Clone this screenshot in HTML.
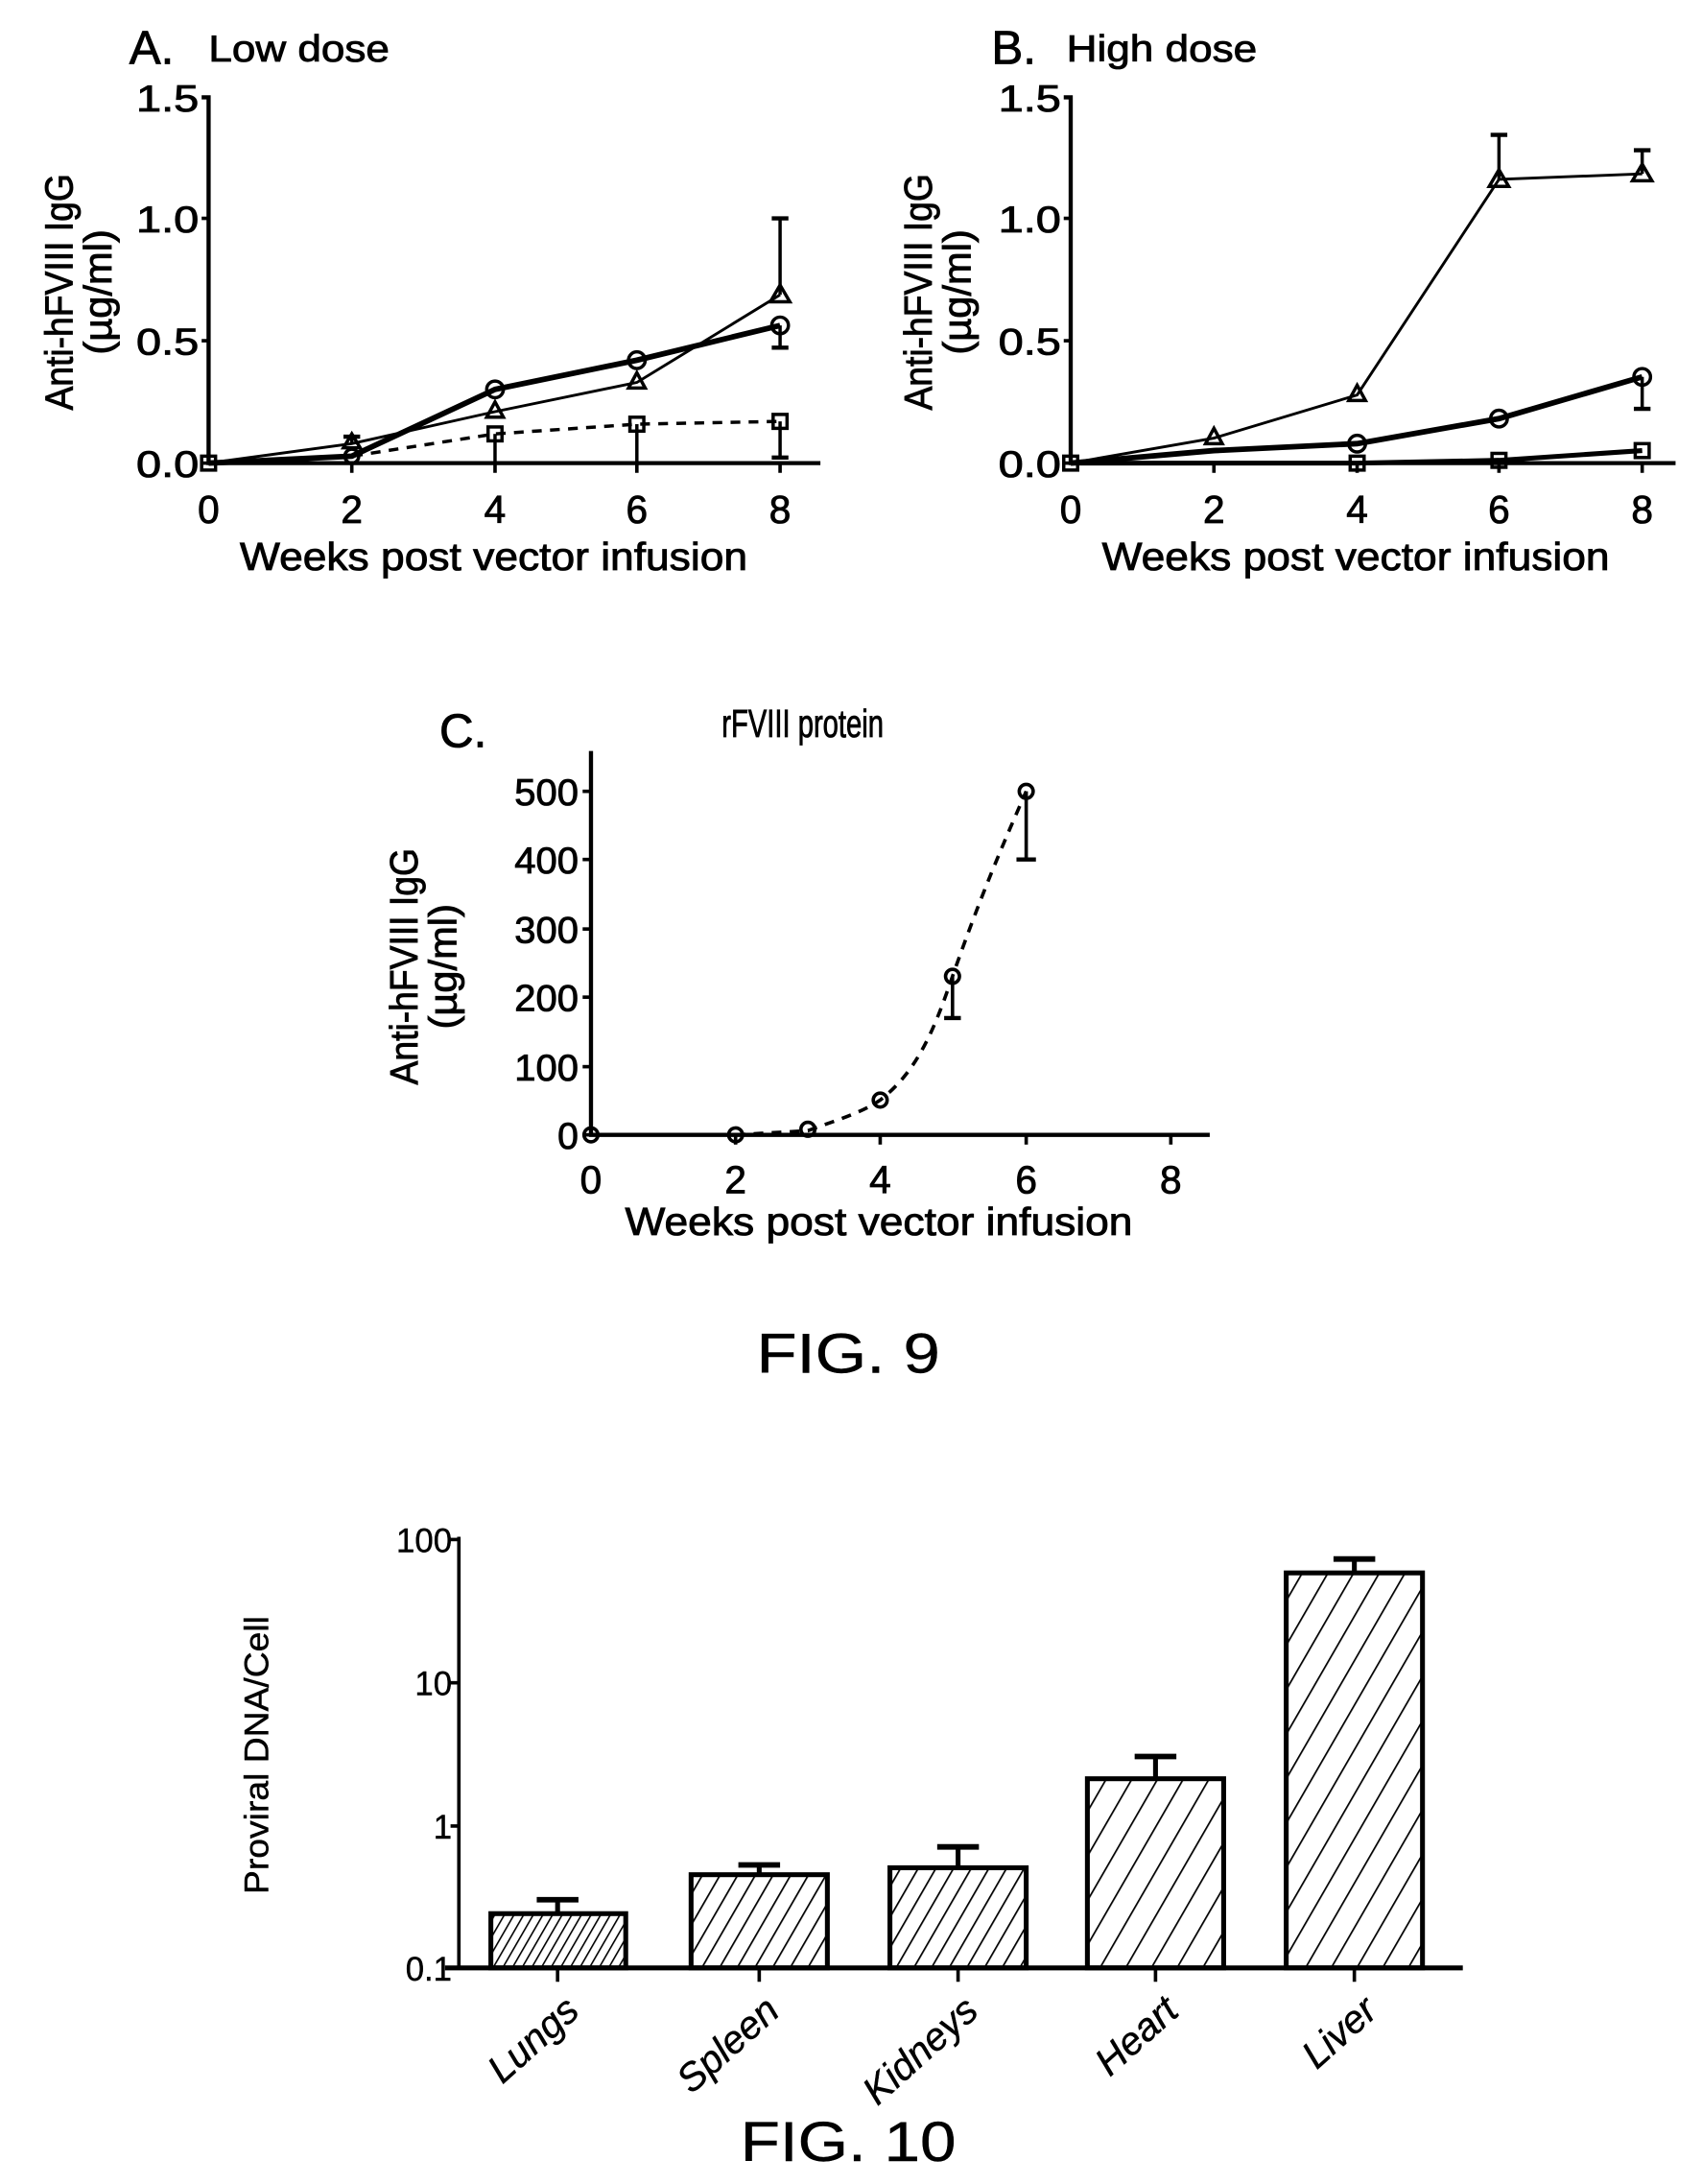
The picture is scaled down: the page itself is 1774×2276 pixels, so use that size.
<!DOCTYPE html>
<html><head><meta charset="utf-8"><style>html,body{margin:0;padding:0;background:#fff}svg{display:block}</style></head>
<body>
<svg width="1774" height="2276" viewBox="0 0 1224 1570.4" xmlns="http://www.w3.org/2000/svg" font-family="Liberation Sans, sans-serif" fill="none" stroke="#000">
<defs>
<pattern id="h1" patternUnits="userSpaceOnUse" width="6" height="6" patternTransform="rotate(30)"><line x1="0" y1="0" x2="0" y2="6" stroke="#000" stroke-width="2.2"/></pattern>
<pattern id="h2" patternUnits="userSpaceOnUse" width="11" height="11" patternTransform="rotate(30)"><line x1="0" y1="0" x2="0" y2="11" stroke="#000" stroke-width="2.4"/></pattern>
<pattern id="h3" patternUnits="userSpaceOnUse" width="16" height="16" patternTransform="rotate(30)"><line x1="0" y1="0" x2="0" y2="16" stroke="#000" stroke-width="2.4"/></pattern>
</defs>
<g fill="#000" stroke="#000" stroke-width="0.6">
<!-- Panel A text -->
<text x="93" y="46" font-size="34">A.</text>
<text x="150" y="44" font-size="27" textLength="130" lengthAdjust="spacingAndGlyphs">Low dose</text>
<g font-size="27" text-anchor="end">
<text x="143" y="80" textLength="45" lengthAdjust="spacingAndGlyphs">1.5</text>
<text x="143" y="167" textLength="45" lengthAdjust="spacingAndGlyphs">1.0</text>
<text x="143" y="255" textLength="45" lengthAdjust="spacingAndGlyphs">0.5</text>
<text x="143" y="343" textLength="45" lengthAdjust="spacingAndGlyphs">0.0</text>
</g>
<g font-size="28" text-anchor="middle">
<text x="150" y="376">0</text><text x="253" y="376">2</text><text x="356" y="376">4</text><text x="458" y="376">6</text><text x="561" y="376">8</text>
<text x="355" y="410" textLength="365" lengthAdjust="spacingAndGlyphs">Weeks post vector infusion</text>
</g>
<g font-size="28" text-anchor="middle">
<text transform="translate(52,210) rotate(-90)" textLength="170" lengthAdjust="spacingAndGlyphs">Anti-hFVIII IgG</text>
<text transform="translate(80,210) rotate(-90)" textLength="90" lengthAdjust="spacingAndGlyphs">(µg/ml)</text>
</g>
<!-- Panel B text -->
<text x="713" y="46" font-size="34">B.</text>
<text x="767" y="44" font-size="27" textLength="137" lengthAdjust="spacingAndGlyphs">High dose</text>
<g font-size="27" text-anchor="end">
<text x="763" y="80" textLength="45" lengthAdjust="spacingAndGlyphs">1.5</text>
<text x="763" y="167" textLength="45" lengthAdjust="spacingAndGlyphs">1.0</text>
<text x="763" y="255" textLength="45" lengthAdjust="spacingAndGlyphs">0.5</text>
<text x="763" y="343" textLength="45" lengthAdjust="spacingAndGlyphs">0.0</text>
</g>
<g font-size="28" text-anchor="middle">
<text x="770" y="376">0</text><text x="873" y="376">2</text><text x="976" y="376">4</text><text x="1078" y="376">6</text><text x="1181" y="376">8</text>
<text x="975" y="410" textLength="365" lengthAdjust="spacingAndGlyphs">Weeks post vector infusion</text>
<text transform="translate(670,210) rotate(-90)" textLength="170" lengthAdjust="spacingAndGlyphs">Anti-hFVIII IgG</text>
<text transform="translate(698,210) rotate(-90)" textLength="90" lengthAdjust="spacingAndGlyphs">(µg/ml)</text>
</g>
<!-- Panel C text -->
<text x="316" y="537" font-size="34">C.</text>
<text transform="translate(519,530) scale(0.72,1)" font-size="28">rFVIII protein</text>
<g font-size="27" text-anchor="end">
<text x="416" y="579" textLength="46" lengthAdjust="spacingAndGlyphs">500</text>
<text x="416" y="628" textLength="46" lengthAdjust="spacingAndGlyphs">400</text>
<text x="416" y="678" textLength="46" lengthAdjust="spacingAndGlyphs">300</text>
<text x="416" y="727" textLength="46" lengthAdjust="spacingAndGlyphs">200</text>
<text x="416" y="777" textLength="46" lengthAdjust="spacingAndGlyphs">100</text>
<text x="416" y="826">0</text>
</g>
<g font-size="28" text-anchor="middle">
<text x="425" y="858">0</text><text x="529" y="858">2</text><text x="633" y="858">4</text><text x="738" y="858">6</text><text x="842" y="858">8</text>
<text x="632" y="888" textLength="365" lengthAdjust="spacingAndGlyphs">Weeks post vector infusion</text>
<text transform="translate(300,695) rotate(-90)" textLength="170" lengthAdjust="spacingAndGlyphs">Anti-hFVIII IgG</text>
<text transform="translate(328,695) rotate(-90)" textLength="90" lengthAdjust="spacingAndGlyphs">(µg/ml)</text>
</g>
<text x="610" y="987" font-size="40" text-anchor="middle" textLength="132" lengthAdjust="spacingAndGlyphs" stroke-width="0.3">FIG. 9</text>
<!-- Fig 10 text -->
<g font-size="24" text-anchor="end" stroke-width="0.3">
<text x="325" y="1116">100</text><text x="325" y="1219">10</text><text x="325" y="1322">1</text><text x="325" y="1424">0.1</text>
</g>
<text transform="translate(193,1262) rotate(-90)" font-size="24" text-anchor="middle" textLength="200" lengthAdjust="spacingAndGlyphs" stroke-width="0.3">Proviral DNA/Cell</text>
<g font-size="28" font-style="italic" text-anchor="end" stroke-width="0.3">
<text transform="translate(418,1448) rotate(-42)">Lungs</text>
<text transform="translate(562,1448) rotate(-42)">Spleen</text>
<text transform="translate(705,1448) rotate(-42)">Kidneys</text>
<text transform="translate(849,1448) rotate(-42)">Heart</text>
<text transform="translate(992,1448) rotate(-42)">Liver</text>
</g>
<text x="610" y="1554" font-size="40" text-anchor="middle" textLength="155" lengthAdjust="spacingAndGlyphs" stroke-width="0.3">FIG. 10</text>
</g>

<!-- Panel A axes -->
<g stroke-width="2.5">
<polyline points="145,70 150,70 150,333 590,333" stroke-width="3"/>
<line x1="145" y1="157" x2="150" y2="157"/><line x1="145" y1="245" x2="150" y2="245"/><line x1="145" y1="333" x2="150" y2="333"/>
<line x1="253" y1="333" x2="253" y2="340"/><line x1="356" y1="333" x2="356" y2="340"/><line x1="458" y1="333" x2="458" y2="340"/><line x1="561" y1="333" x2="561" y2="340"/>
</g>
<g stroke-width="2.4">
<polyline points="150,333 253,319 356,296 458,275 561,212" stroke-width="2"/>
<polyline points="150,333 253,328 356,280 458,259 561,234" stroke-width="4"/>
<polyline points="150,333 253,328 356,312 458,305 561,303" stroke-dasharray="7,6"/>
<line x1="561" y1="212" x2="561" y2="157"/><line x1="555" y1="157" x2="567" y2="157" stroke-width="3"/>
<line x1="561" y1="234" x2="561" y2="250"/><line x1="555" y1="250" x2="567" y2="250" stroke-width="3"/>
<line x1="253" y1="319" x2="253" y2="314"/><line x1="247" y1="314" x2="259" y2="314" stroke-width="3"/>
<line x1="356" y1="312" x2="356" y2="333"/><line x1="458" y1="305" x2="458" y2="333"/>
<line x1="561" y1="303" x2="561" y2="329"/><line x1="555" y1="329" x2="567" y2="329" stroke-width="3"/>
<circle cx="253" cy="328" r="5"/><circle cx="356" cy="280" r="6"/><circle cx="458" cy="259" r="6"/><circle cx="561" cy="234" r="6"/>
<path d="M253,312 l6,10 h-12z M356,289 l6,11 h-12z M458,268 l6,11 h-12z M561,205 l7,12 h-14z"/>
<rect x="351" y="307" width="10" height="10"/><rect x="453" y="300" width="10" height="10"/><rect x="556" y="298" width="10" height="10"/>
<rect x="145" y="328" width="10" height="10"/>
</g>

<!-- Panel B axes -->
<g stroke-width="2.5">
<polyline points="765,70 770,70 770,333 1205,333" stroke-width="3"/>
<line x1="765" y1="157" x2="770" y2="157"/><line x1="765" y1="245" x2="770" y2="245"/><line x1="765" y1="333" x2="770" y2="333"/>
<line x1="873" y1="333" x2="873" y2="340"/><line x1="976" y1="333" x2="976" y2="340"/><line x1="1078" y1="333" x2="1078" y2="340"/><line x1="1181" y1="333" x2="1181" y2="340"/>
</g>
<g stroke-width="2.4">
<polyline points="770,333 873,315 976,284 1078,129 1181,125" stroke-width="2"/>
<polyline points="770,333 873,324 976,319 1078,301 1181,271" stroke-width="4"/>
<polyline points="770,333 873,333 976,333 1078,331 1181,324" stroke-width="3.5"/>
<line x1="1078" y1="129" x2="1078" y2="97"/><line x1="1072" y1="97" x2="1084" y2="97" stroke-width="3"/>
<line x1="1181" y1="125" x2="1181" y2="108"/><line x1="1175" y1="108" x2="1187" y2="108" stroke-width="3"/>
<line x1="1181" y1="271" x2="1181" y2="294"/><line x1="1175" y1="294" x2="1187" y2="294" stroke-width="3"/>
<path d="M873,308 l6,11 h-12z M976,277 l6,11 h-12z M1078,122 l7,12 h-14z M1181,118 l7,12 h-14z"/>
<circle cx="976" cy="319" r="6"/><circle cx="1078" cy="301" r="6"/><circle cx="1181" cy="271" r="6"/>
<rect x="971" y="328" width="10" height="10"/><rect x="1073" y="326" width="10" height="10"/><rect x="1176" y="319" width="10" height="10"/>
<rect x="765" y="328" width="10" height="10"/>
</g>

<!-- Panel C axes -->
<g stroke-width="2.5">
<polyline points="425,540 425,816 870,816" stroke-width="3"/>
<line x1="419" y1="569" x2="425" y2="569"/><line x1="419" y1="618" x2="425" y2="618"/><line x1="419" y1="668" x2="425" y2="668"/><line x1="419" y1="717" x2="425" y2="717"/><line x1="419" y1="767" x2="425" y2="767"/><line x1="419" y1="816" x2="425" y2="816"/>
<line x1="529" y1="816" x2="529" y2="823"/><line x1="633" y1="816" x2="633" y2="823"/><line x1="738" y1="816" x2="738" y2="823"/><line x1="842" y1="816" x2="842" y2="823"/>
</g>
<g stroke-width="2.5">
<path d="M529,816 L581,813 C600,806 620,800 633,791 C660,770 672,740 685,702 C705,645 720,610 738,569" stroke-dasharray="7,6"/>
<line x1="685" y1="702" x2="685" y2="732"/><line x1="679" y1="732" x2="691" y2="732" stroke-width="3"/>
<line x1="738" y1="569" x2="738" y2="618"/><line x1="731" y1="618" x2="745" y2="618" stroke-width="3"/>
<circle cx="425" cy="816" r="5"/><circle cx="529" cy="816" r="5"/><circle cx="581" cy="812" r="5"/><circle cx="633" cy="791" r="5"/><circle cx="685" cy="702" r="5"/><circle cx="738" cy="569" r="5"/>
</g>

<!-- Fig 10 -->
<g stroke-width="2.5">
<line x1="330" y1="1105" x2="330" y2="1415"/>
<line x1="320" y1="1415" x2="1052" y2="1415" stroke-width="3.5"/>
<line x1="324" y1="1107" x2="330" y2="1107"/><line x1="324" y1="1210" x2="330" y2="1210"/><line x1="324" y1="1313" x2="330" y2="1313"/>
<line x1="401" y1="1415" x2="401" y2="1425"/><line x1="546" y1="1415" x2="546" y2="1425"/><line x1="689" y1="1415" x2="689" y2="1425"/><line x1="831" y1="1415" x2="831" y2="1425"/><line x1="974" y1="1415" x2="974" y2="1425"/>
</g>
<g stroke-width="3.5">
<rect x="353" y="1376" width="97" height="39" fill="url(#h1)"/>
<rect x="497" y="1348" width="98" height="67" fill="url(#h2)"/>
<rect x="640" y="1343" width="98" height="72" fill="url(#h2)"/>
<rect x="782" y="1279" width="98" height="136" fill="url(#h3)"/>
<rect x="925" y="1131" width="98" height="284" fill="url(#h3)"/>
<line x1="401" y1="1376" x2="401" y2="1366"/><line x1="386" y1="1366" x2="416" y2="1366" stroke-width="4"/>
<line x1="546" y1="1348" x2="546" y2="1341"/><line x1="531" y1="1341" x2="561" y2="1341" stroke-width="4"/>
<line x1="689" y1="1343" x2="689" y2="1328"/><line x1="674" y1="1328" x2="704" y2="1328" stroke-width="4"/>
<line x1="831" y1="1279" x2="831" y2="1263"/><line x1="816" y1="1263" x2="846" y2="1263" stroke-width="4"/>
<line x1="974" y1="1131" x2="974" y2="1121"/><line x1="959" y1="1121" x2="989" y2="1121" stroke-width="4"/>
</g>
</svg>
</body></html>
